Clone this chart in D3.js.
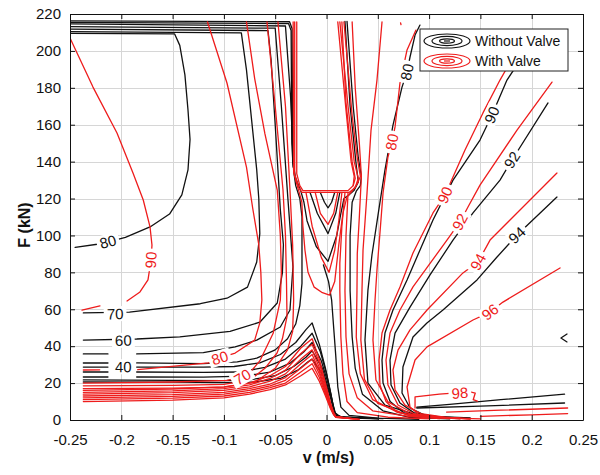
<!DOCTYPE html>
<html>
<head>
<meta charset="utf-8">
<script src="https://cdn.jsdelivr.net/npm/d3@7"></script>
<style>
  body { margin: 0; background: #fff; }
  svg { display: block; }
  text { font-family: "Liberation Sans", Arial, sans-serif; }
</style>
</head>
<body>
<svg id="chart" width="600" height="475"></svg>
<script>
// ---- axis ticks ----
const vTicks = [-0.25, -0.2, -0.15, -0.1, -0.05, 0, 0.05, 0.1, 0.15, 0.2, 0.25];
const vTickLabels = ["-0.25", "-0.2", "-0.15", "-0.1", "-0.05", "0", "0.05", "0.1", "0.15", "0.2", "0.25"];
const fTicks = [0, 20, 40, 60, 80, 100, 120, 140, 160, 180, 200, 220];
const fTickLabels = ["0", "20", "40", "60", "80", "100", "120", "140", "160", "180", "200", "220"];

const legendItems = ["Without Valve", "With Valve"];

// ---- contour lines, points are [v (m/s), F (kN)]; null breaks a line ----
const blackContours = [
  // 0: 80 (upper left)
  [[-0.245,93.5],[-0.22,95.5],[-0.196,99],[-0.172,104.6],[-0.153,111.6],[-0.141,122],[-0.135,135.5],[-0.133,152],[-0.135,168],[-0.138,187],[-0.143,203],[-0.148,209.2],[-0.25,209.5]],
  // 1: 70
  [[-0.237,58],[-0.192,58.5],[-0.123,63],[-0.097,66],[-0.077,72],[-0.068,85.6],[-0.065,101],[-0.066,120],[-0.068,135.5],[-0.073,162.6],[-0.078,189.7],[-0.083,209.8],[-0.25,210.5]],
  // 2: 60
  [[-0.237,43.3],[-0.185,43.9],[-0.143,45],[-0.094,48],[-0.065,53],[-0.048,63.4],[-0.043,79.7],[-0.042,95],[-0.045,114],[-0.05,160],[-0.054,195],[-0.057,211],[-0.25,211.8]],
  // 3: 50
  [[-0.237,35.8],[-0.213,35.8],null,[-0.185,35.8],[-0.12,36.5],[-0.089,39.6],[-0.068,43.3],[-0.045,50.4],[-0.0356,59.6],[-0.0327,83],[-0.0375,119],[-0.044,170],[-0.05,212.3],[-0.25,213.2]],
  // 4: 45
  [[-0.237,30.9],[-0.213,30.9],null,[-0.185,30.9],[-0.12,30.6],[-0.087,31.5],[-0.068,33.5],[-0.05,38],[-0.038,44],[-0.03,52],[-0.026,62],[-0.0239,74],[-0.0239,110],[-0.026,120],[-0.03,127],[-0.032,135],[-0.035,175],[-0.04,213.5],[-0.25,214.6]],
  // 5: top line ending on the notch edge
  [[-0.25,215.5],[-0.037,214.8],[-0.0345,211],[-0.0338,150],[-0.0325,137]],
  // 6: notch outline with dent below it
  [[-0.25,216.3],[-0.036,215.8],[-0.0335,212],[-0.033,140],[-0.03,131],[-0.025,124],[-0.022,118],[-0.019,108],[-0.01,94],[0.0015,86],[0.01,100],[0.014,112],[0.017,120],[0.022,122],[0.027,124.5],[0.031,129],[0.029,138],[0.023,170],[0.018,216]],
  // 7, 8: small dents under the notch
  [[-0.006,123.3],[-0.002,118],[0.0015,115],[0.005,118],[0.008,123.3]],
  [[-0.016,123.3],[-0.009,112],[0.0015,101],[0.009,112],[0.013,123.3]],
  // 9: central descending line
  [[-0.003,84],[0.002,75],[0.005,65],[0.007,50],[0.009,35],[0.011,18],[0.014,7],[0.022,2.5],[0.05,1],[0.09,0.4]],
  // 10: notch right edge and down
  [[0.02,216],[0.026,170],[0.031,142],[0.034,132],[0.033,127],[0.029,124],[0.025,118],[0.023,100],[0.023,70],[0.025,45],[0.028,28],[0.035,14],[0.055,5],[0.08,1.5],[0.12,0.6]],
  // 11: 80 (right)
  [[0.0911,214],[0.0863,208.6],[0.0814,196.7],[0.0785,188.6],[0.0736,180.4],[0.0648,159.8],[0.057,135.5],[0.0502,111],[0.0443,89.4],[0.0404,70.4],[0.0375,43.3],[0.0404,20],[0.057,8.1],[0.0911,2.2],[0.14,1.1]],
  // 12: 90
  [[0.1954,200.5],[0.1759,184.2],[0.1613,165.3],[0.1496,151.7],[0.1233,130],[0.1038,108.4],[0.0785,75.9],[0.0648,59.6],[0.057,47.1],[0.0541,32.5],[0.0551,20],[0.062,10],[0.075,4],[0.095,1.6],[0.13,0.7]],
  // 13: 92
  [[0.2159,171.8],[0.1808,140.9],[0.1691,130],[0.1428,112.2],[0.1233,97.5],[0.1009,78.6],[0.0814,61.2],[0.0668,47.1],[0.0619,32.5],[0.0629,19],[0.0716,9.2],[0.085,4],[0.105,1.8],[0.14,0.8]],
  // 14: 94
  [[0.2246,120.8],[0.1857,100.2],[0.1662,88.3],[0.1467,75.9],[0.1135,59.6],[0.0979,52.6],[0.0843,45],[0.0745,28.7],[0.0736,14.6],[0.0814,6.5],[0.096,2.5],[0.12,1.2]],
  // 15, 16: low-force lines on the right
  [[0.088,7],[0.12,8.5],[0.17,11],[0.232,14]],
  [[0.088,6.5],[0.15,7.5],[0.232,9.2]],
  // 17-21: low-force lines rising to a ridge at v = -0.014
  [[-0.237,28.7],[-0.213,28.7],null,[-0.185,28.7],[-0.12,28.6],[-0.09,29],[-0.065,31],[-0.045,35.5],[-0.03,42],[-0.02,49],[-0.014,52.6],[-0.007,41],[-0.001,28],[0.004,15],[0.007,6],[0.009,2.5],[0.02,1.2],[0.05,0.6]],
  [[-0.237,26],[-0.213,26],null,[-0.185,26],[-0.12,25.8],[-0.085,26],[-0.06,28.5],[-0.04,33],[-0.025,40],[-0.014,47],[-0.006,37],[0,25],[0.005,12],[0.008,4],[0.012,1.8],[0.04,1]],
  [[-0.237,23.3],[-0.213,23.3],null,[-0.185,23.3],[-0.12,23.2],[-0.08,23.8],[-0.055,26],[-0.035,31],[-0.022,37],[-0.014,42],[-0.005,32],[0.002,19],[0.006,9],[0.009,3],[0.015,1.5],[0.045,0.9]],
  [[-0.237,21.7],[-0.15,21.5],[-0.1,21.3],[-0.075,21.8],[-0.05,24],[-0.032,29],[-0.02,34],[-0.014,37.5],[-0.004,28],[0.003,15],[0.008,4],[0.014,1.5],[0.05,0.8]],
  [[-0.237,20.6],[-0.15,20.5],[-0.1,20.3],[-0.07,20.6],[-0.045,22.5],[-0.028,27],[-0.018,31.5],[-0.014,33],[-0.003,24],[0.004,12],[0.008,3],[0.015,1.3],[0.055,0.7]],
  // 22: small closed bit near the right edge
  [[0.2344,46.6],[0.2285,44.4],[0.2344,42.3]]
];

const redContours = [
  // 0: 90 (upper left)
  [[-0.25,207],[-0.2276,180.4],[-0.2042,155.5],[-0.1886,133.8],[-0.1786,119.2],[-0.172,104.6],[-0.1701,94.8],[-0.171,86.7],[-0.174,75.9],[-0.1818,69.4],[-0.1944,64.5],null,[-0.2208,61.8],[-0.2383,59.6]],
  // 1: 80 (left)
  [[-0.116,215.7],[-0.097,182.6],[-0.078,137],[-0.072,115],[-0.066,95],[-0.064,80],[-0.063,65],[-0.065,52.6],[-0.07,43.3],[-0.089,36.3],[-0.104,33.6],[-0.115,31],[-0.184,27.3],null,[-0.221,27.2],[-0.237,27.1]],
  // 2: 70
  [[-0.078,215.7],[-0.07,185],[-0.06,155],[-0.048,124.6],[-0.045,100],[-0.044,80],[-0.045,65],[-0.052,47],[-0.065,32],[-0.075,25.5],[-0.082,23.3],[-0.097,21.5],[-0.15,20.6],[-0.237,20]],
  // 3, 4
  [[-0.058,215.7],[-0.05,170],[-0.0424,124.6],[-0.04,100],[-0.039,75],[-0.0385,56],[-0.043,44],[-0.0482,36.3],[-0.06,28],[-0.0746,21.7],[-0.1,19.3],[-0.15,18.8],[-0.237,18.5]],
  [[-0.0473,215.7],[-0.04,170],[-0.0356,124.6],[-0.033,95],[-0.032,65],[-0.033,48],[-0.038,38],[-0.05,28],[-0.07,20.5],[-0.1,17.8],[-0.15,17.3],[-0.237,17]],
  // 5-8: notch outline
  [[-0.031,215.7],[-0.031,133],[-0.027,126],[-0.024,123.3],[0.022,123.3],[0.028,126],[0.031,131],[0.027,140],[0.021,170],[0.013,215.7]],
  [[-0.029,215.7],[-0.029,133.5],[-0.026,127],[-0.023,124.3],[0.021,124.3],[0.026,127],[0.028,131],[0.025,140],[0.019,172],[0.015,215.7]],
  [[-0.0325,215.7],[-0.032,134],[-0.027,124],[-0.024,118],[-0.023,105],[-0.021,92],[-0.018,80],[-0.012,72],[-0.004,69],[0.003,67.7],[0.008,75],[0.012,95],[0.016,112],[0.02,121],[0.025,124],[0.03,128],[0.033,132],[0.03,142],[0.025,165],[0.017,215.7]],
  [[0.011,215.7],[0.019,168],[0.024,140],[0.027,132],[0.026,127]],
  // 9, 10: dents under the notch
  [[-0.011,123.3],[-0.006,112],[0.0015,106],[0.007,112],[0.011,123.3]],
  [[-0.02,123.3],[-0.014,105],[-0.005,88],[0.0025,80],[0.008,92],[0.012,108],[0.015,123.3]],
  // 11-13: right of the notch
  [[0.018,123.3],[0.015,105],[0.013,85],[0.013,70],[0.014,45],[0.016,25],[0.02,10],[0.03,4],[0.06,1.5],[0.1,0.6]],
  [[0.021,123.3],[0.019,100],[0.018,70],[0.019,45],[0.022,25],[0.03,12],[0.045,5],[0.08,2],[0.12,0.8]],
  [[0.025,215.7],[0.028,180],[0.032,150],[0.034,132],[0.032,110],[0.03,90],[0.0297,70],[0.029,45],[0.033,25],[0.045,11],[0.07,4],[0.1,1.5],[0.15,0.6]],
  // 14
  [[0.0541,215.7],[0.0492,184.2],[0.0434,157.1],[0.0395,123],[0.0356,92.1],[0.0346,70.4],[0.0335,43.3],[0.037,22],[0.05,9],[0.08,2.5],[0.13,1]],
  // 15: 80 (right)
  [[0.0872,211.3],[0.0785,200.5],[0.0716,182.6],[0.0668,158.8],[0.0638,150.6],[0.0599,142.5],[0.0551,123],[0.0521,101.3],[0.0492,81.3],[0.0473,65],[0.0453,43.3],[0.0482,21.7],[0.0599,9.8],[0.0814,3.3],[0.1106,1.1]],
  // 16: 90
  [[0.1886,203.2],[0.1691,184.2],[0.1525,166.4],[0.135,146.3],[0.1233,131.7],[0.1155,121.9],[0.1038,112.2],[0.0843,90.5],[0.0716,72.1],[0.0619,59.6],[0.0541,47.1],[0.0512,32.5],[0.0521,19],[0.058,10],[0.068,4.5],[0.085,1.8],[0.11,0.7]],
  // 17: 92
  [[0.2198,183.1],[0.1857,157.1],[0.1496,127.3],[0.1379,115.4],[0.1301,107.3],[0.1174,97.5],[0.0843,72.1],[0.0716,59.6],[0.0619,47.1],[0.058,32.5],[0.0599,19],[0.0697,8.1],[0.085,3.5],[0.105,1.5],[0.13,0.6]],
  // 18: 94
  [[0.2246,133.8],[0.1886,113.8],[0.1594,97.5],[0.1477,85.6],[0.133,79.7],[0.098,59.6],[0.0814,48.8],[0.0697,37.9],[0.0648,27.1],[0.0668,16.3],[0.0765,8.1],[0.092,3.5],[0.115,1.5],[0.14,0.6]],
  // 19: 96
  [[0.2276,82.4],[0.172,63.9],[0.1594,58.5],[0.1428,54.2],[0.098,39.6],[0.0863,32.5],[0.0785,17.9],[0.0814,7],[0.09,3],[0.11,1.5],[0.14,0.5]],
  // 20: 98
  [[0.0863,6.5],[0.0863,12.5],[0.11,14],[0.14,15.2],[0.145,14.6],[0.143,11],[0.147,10.2]],
  // 21, 22: low-force lines on the right
  [[0.117,4.3],[0.17,5.3],[0.235,6.5]],
  [[0.15,2],[0.2,2.8],[0.235,3.5]],
  // 23-29: low-force band rising to the ridge
  [[-0.237,16],[-0.15,16.8],[-0.1,18],[-0.075,20],[-0.055,24],[-0.04,29],[-0.025,39],[-0.014,44],[-0.007,33],[-0.001,20],[0.004,9],[0.007,4],[0.009,2],[0.02,1]],
  [[-0.237,15],[-0.15,15.8],[-0.1,17],[-0.075,19],[-0.055,22.5],[-0.04,27],[-0.025,36],[-0.014,41],[-0.007,31],[-0.001,18.5],[0.004,8.5],[0.007,3.8],[0.009,1.9],[0.022,0.9]],
  [[-0.237,14],[-0.15,14.8],[-0.1,16],[-0.075,18],[-0.055,21],[-0.04,25],[-0.025,33],[-0.014,38],[-0.007,28.5],[-0.001,17],[0.004,8],[0.007,3.6],[0.009,1.8],[0.024,0.8]],
  [[-0.237,13],[-0.15,13.8],[-0.1,15],[-0.075,17],[-0.055,19.5],[-0.04,23],[-0.025,30.5],[-0.014,35.5],[-0.007,26.5],[-0.001,16],[0.004,7.5],[0.007,3.4],[0.009,1.7],[0.026,0.7]],
  [[-0.237,12],[-0.15,12.8],[-0.1,14],[-0.075,16],[-0.055,18.5],[-0.04,21.5],[-0.025,28],[-0.014,33],[-0.007,25],[-0.001,15],[0.004,7],[0.007,3.2],[0.009,1.6],[0.028,0.6]],
  [[-0.237,11],[-0.15,11.8],[-0.1,13],[-0.075,15],[-0.055,17.5],[-0.04,20],[-0.025,26],[-0.014,30.5],[-0.007,23],[-0.001,14],[0.004,6.5],[0.007,3],[0.009,1.5],[0.03,0.5]],
  [[-0.237,10],[-0.15,10.8],[-0.1,12],[-0.075,14],[-0.055,16.5],[-0.04,19],[-0.025,24],[-0.014,28],[-0.007,21],[-0.001,13],[0.004,6],[0.007,2.8],[0.009,1.4],[0.032,0.4]],
  // 30: tiny fragment near the top
  [[0.0722,215.2],[0.0726,214.2]]
];

// ---- contour labels: text, position, and the line they sit on ----
const blackLabels = [
  { text: "80", v: -0.213, F: 96.5, line: 0 },
  { text: "70", v: -0.206, F: 57.4, line: 1 },
  { text: "60", v: -0.198, F: 43.1, line: 2 },
  { text: "40", v: -0.198, F: 28.7, line: 17 },
  { text: "80", v: 0.0785, F: 188.6, line: 11 },
  { text: "90", v: 0.1613, F: 165.3, line: 12 },
  { text: "92", v: 0.1808, F: 140.9, line: 13 },
  { text: "94", v: 0.1857, F: 100.2, line: 14 }
];
const redLabels = [
  { text: "90", v: -0.171, F: 86.7, line: 0 },
  { text: "80", v: -0.104, F: 33.6, line: 1 },
  { text: "70", v: -0.082, F: 23.3, line: 2 },
  { text: "80", v: 0.0638, F: 150.6, line: 15 },
  { text: "90", v: 0.1155, F: 121.9, line: 16 },
  { text: "92", v: 0.1301, F: 107.3, line: 17 },
  { text: "94", v: 0.1477, F: 85.6, line: 18 },
  { text: "96", v: 0.1594, F: 58.5, line: 19 },
  { text: "98", v: 0.130, F: 14.6, line: 20 }
];

// ---- layout ----
const svg = d3.select("#chart");
const plot = { left: 70, right: 583, top: 14, bottom: 420 };
const BLACK = "#111111", RED = "#ee1c1c";

const x = d3.scaleLinear().domain([-0.25, 0.25]).range([plot.left, plot.right]);
const y = d3.scaleLinear().domain([0, 220]).range([plot.bottom, plot.top]);

svg.append("defs").append("clipPath").attr("id", "plotClip")
  .append("rect")
  .attr("x", plot.left).attr("y", plot.top)
  .attr("width", plot.right - plot.left).attr("height", plot.bottom - plot.top);

// grid
const grid = svg.append("g").attr("stroke", "#d6d6d6").attr("stroke-width", 1);
grid.selectAll("line.gv").data(vTicks).join("line")
  .attr("x1", d => Math.round(x(d)) + 0.5).attr("x2", d => Math.round(x(d)) + 0.5)
  .attr("y1", plot.top).attr("y2", plot.bottom);
grid.selectAll("line.gh").data(fTicks).join("line")
  .attr("y1", d => Math.round(y(d)) + 0.5).attr("y2", d => Math.round(y(d)) + 0.5)
  .attr("x1", plot.left).attr("x2", plot.right);

// contour lines
const line = d3.line().defined(d => d !== null).x(d => x(d[0])).y(d => y(d[1]));
const lines = svg.append("g").attr("clip-path", "url(#plotClip)")
  .attr("fill", "none").attr("stroke-linejoin", "round").attr("stroke-linecap", "round");
lines.append("g").attr("stroke", BLACK).attr("stroke-width", 1.3)
  .selectAll("path").data(blackContours).join("path").attr("d", line);
lines.append("g").attr("stroke", RED).attr("stroke-width", 1.3)
  .selectAll("path").data(redContours).join("path").attr("d", line);

// inline labels, rotated along their line, with a white gap behind
const labelLayer = svg.append("g").attr("clip-path", "url(#plotClip)");
function drawLabels(labels, contours, color) {
  labels.forEach(lb => {
    const pts = contours[lb.line];
    const px = x(lb.v), py = y(lb.F);
    let best = Infinity, ang = 0;
    for (let i = 0; i < pts.length - 1; i++) {
      const a = pts[i], b = pts[i + 1];
      if (!a || !b) continue;
      const ax = x(a[0]), ay = y(a[1]), bx = x(b[0]), by = y(b[1]);
      const dx = bx - ax, dy = by - ay, len2 = dx * dx + dy * dy || 1;
      let t = ((px - ax) * dx + (py - ay) * dy) / len2;
      t = Math.max(0, Math.min(1, t));
      const qx = ax + t * dx - px, qy = ay + t * dy - py, d = qx * qx + qy * qy;
      if (d < best) { best = d; ang = Math.atan2(dy, dx) * 180 / Math.PI; }
    }
    if (ang > 90) ang -= 180;
    if (ang < -90) ang += 180;
    const g = labelLayer.append("g").attr("transform", `translate(${px},${py}) rotate(${ang})`);
    const txt = g.append("text").text(lb.text)
      .attr("text-anchor", "middle").attr("dy", "0.35em")
      .attr("font-size", 15).attr("fill", color);
    const bb = txt.node().getBBox();
    g.insert("rect", "text")
      .attr("x", bb.x - 3).attr("y", bb.y + 1)
      .attr("width", bb.width + 6).attr("height", bb.height - 2)
      .attr("fill", "#fff");
  });
}
drawLabels(blackLabels, blackContours, BLACK);
drawLabels(redLabels, redContours, RED);

// legend
const lg = svg.append("g").attr("transform", "translate(420,29)");
lg.append("rect").attr("width", 148).attr("height", 42)
  .attr("fill", "#fff").attr("stroke", "#222").attr("stroke-width", 1);
legendItems.forEach((name, i) => {
  const cy = 12 + i * 20;
  const col = i === 0 ? BLACK : RED;
  const ic = lg.append("g").attr("transform", `translate(27,${cy})`)
    .attr("fill", "none").attr("stroke", col).attr("stroke-width", 1.2);
  [[23, 7], [15, 4.6], [7.5, 2.2]].forEach(r =>
    ic.append("ellipse").attr("rx", r[0]).attr("ry", r[1]));
  ic.append("line").attr("x1", -3).attr("x2", 3);
  lg.append("text").attr("x", 55).attr("y", cy).attr("dy", "0.36em")
    .attr("font-size", 14).attr("fill", "#111").text(name);
});

// axes (ticks point inward, frame on all four sides)
function styleAxis(g) {
  g.attr("font-size", 15).attr("font-family", "Liberation Sans, Arial, sans-serif");
  g.selectAll("text").attr("fill", "#111");
  g.selectAll("line").attr("stroke", "#111");
  g.select(".domain").attr("stroke", "#111");
}
svg.append("g").attr("transform", `translate(0,${plot.bottom})`)
  .call(d3.axisBottom(x).tickValues(vTicks).tickFormat((d, i) => vTickLabels[i])
    .tickSizeInner(-5).tickSizeOuter(0).tickPadding(14))
  .call(styleAxis);
svg.append("g").attr("transform", `translate(${plot.left},0)`)
  .call(d3.axisLeft(y).tickValues(fTicks).tickFormat((d, i) => fTickLabels[i])
    .tickSizeInner(-5).tickSizeOuter(0).tickPadding(9))
  .call(styleAxis);
svg.append("g").attr("transform", `translate(0,${plot.top})`)
  .call(d3.axisTop(x).tickValues(vTicks).tickFormat("").tickSizeInner(-5).tickSizeOuter(0))
  .call(styleAxis);
svg.append("g").attr("transform", `translate(${plot.right},0)`)
  .call(d3.axisRight(y).tickValues(fTicks).tickFormat("").tickSizeInner(-5).tickSizeOuter(0))
  .call(styleAxis);

// axis titles
svg.append("text").attr("x", (plot.left + plot.right) / 2 + 2).attr("y", 463)
  .attr("text-anchor", "middle").attr("font-size", 16).attr("font-weight", "bold")
  .attr("fill", "#111").text("v (m/s)");
svg.append("text").attr("transform", `translate(30,${(plot.top + plot.bottom) / 2 + 8}) rotate(-90)`)
  .attr("text-anchor", "middle").attr("font-size", 16).attr("font-weight", "bold")
  .attr("fill", "#111").text("F (kN)");
</script>
</body>
</html>
